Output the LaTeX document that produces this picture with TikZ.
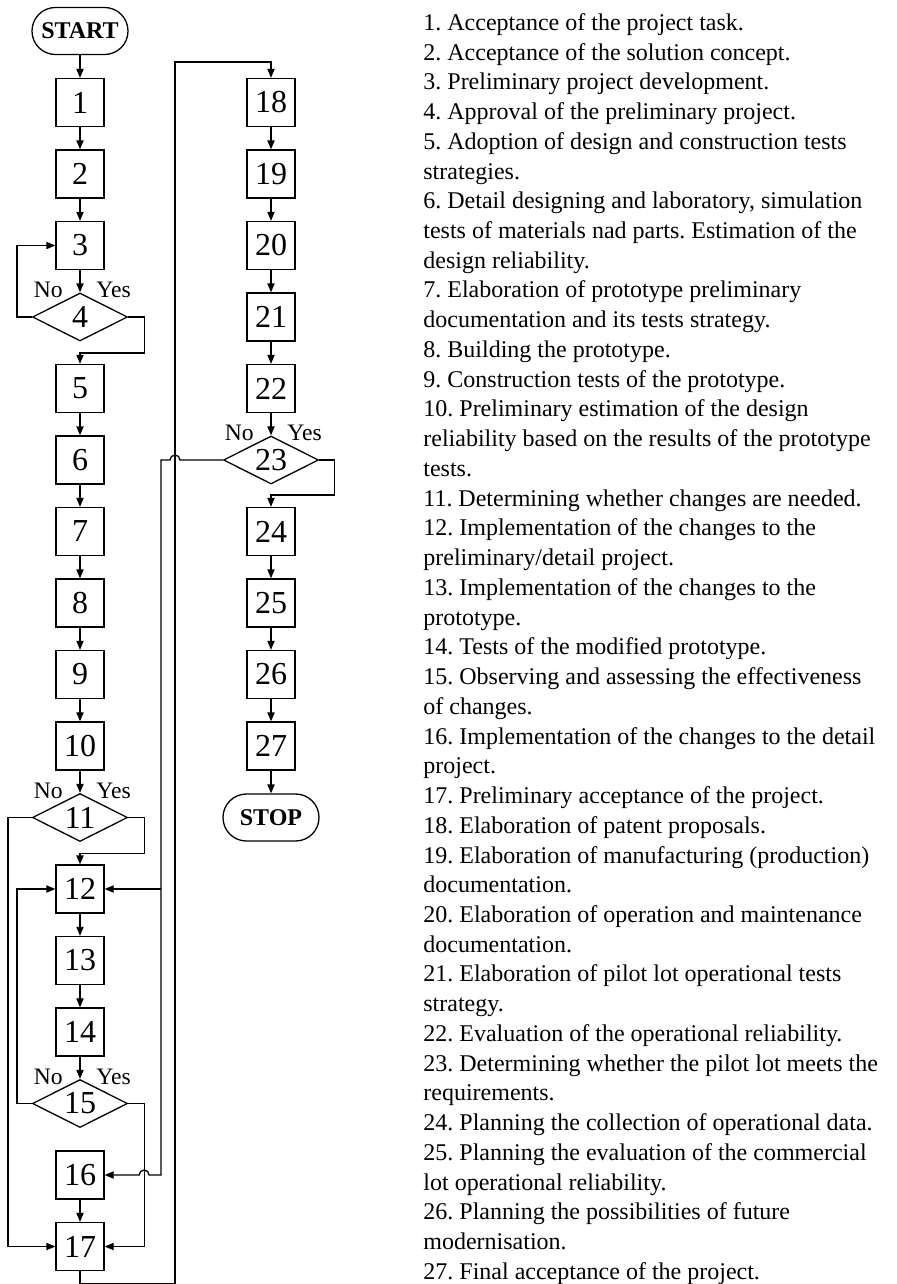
\documentclass[tikz,border=0pt]{standalone}
\usepackage{fontspec}
\setmainfont{Liberation Serif}
\usetikzlibrary{shapes.geometric,arrows.meta,calc}
\frenchspacing

\tikzset{
  stepbox/.style={draw, line width=0.65pt, minimum width=24pt, minimum height=24pt,
    inner sep=0pt, font=\fontsize{16}{16}\selectfont},
  decision/.style={draw, diamond, aspect=2, line width=0.65pt, minimum width=47.5pt,
    minimum height=24pt, inner sep=0pt, font=\fontsize{16}{16}\selectfont},
  term/.style={draw, rounded corners=11.7pt, line width=0.65pt, minimum width=48pt,
    minimum height=23.5pt, inner sep=0pt, font=\fontsize{12}{12}\selectfont\bfseries},
  flow/.style={line width=0.65pt, -{Triangle[length=4.5pt,width=3.6pt]}},
  answer/.style={inner sep=0pt, font=\fontsize{11.8}{12}\selectfont},
}

\begin{document}
\begin{tikzpicture}[x=0.5pt,y=-0.5pt]
  \useasboundingbox (0,0) rectangle (896,1284);

  % left column
  \node[term] (start) at (80,31) {START};
  \foreach \n in {1,2,3,5,6,7,8,9,10,12,13,14,16,17}
    \node[stepbox] (b\n) at (80,{31+71.5*\n}) {\n};
  \foreach \n in {4,11,15}
    \node[decision] (d\n) at (80,{31+71.5*\n}) {\n};

  % right column
  \foreach \n in {18,19,20,21,22,24,25,26,27}
    \node[stepbox] (b\n) at (271,{31+71.5*(\n-17)}) {\n};
  \node[decision] (d23) at (271,460) {23};
  \node[term] (stop) at (271,{31+71.5*11}) {STOP};

  \foreach \n in {4,11,15,23} {
    \node[answer, anchor=base east] (no\n) at ([shift={(-17,5.5)}]d\n.north) {No};
    \node[answer, anchor=base west] (yes\n) at ([shift={(16,5.5)}]d\n.north) {Yes};
  }

  % straight steps
  \foreach \a/\b in {start/b1,b1/b2,b2/b3,b3/d4,b5/b6,b6/b7,b7/b8,b8/b9,b9/b10,
      b10/d11,b12/b13,b13/b14,b14/d15,b16/b17,b18/b19,b19/b20,b20/b21,b21/b22,
      b22/d23,b24/b25,b25/b26,b26/b27,b27/stop}
    \draw[flow] (\a) -- (\b);

  % decisions
  \draw[flow] (d4.west) -- ++(-15,0) |- (b3.west);
  \draw[flow] (d4.east) -- ++(16,0) -- ++(0,36) -| (b5.north);
  \draw[flow] (d11.west) -- ++(-24,0) |- (b17.west);
  \draw[flow] (d11.east) -- ++(16,0) -- ++(0,36) -| (b12.north);
  \draw[flow] (d15.west) -- ++(-15,0) |- (b12.west);
  \draw[flow] (d15.east) -- ++(16,0) |- (b17.east);
  \draw[flow] (d23.east) -- ++(15,0) -- ++(0,35) -| (b24.north);

  % 17 -> 18
  \coordinate (rail) at (175,62);
  \coordinate (back) at (161,460);
  \coordinate (yes15) at ([xshift=8pt]d15.east);
  \draw[flow] (b17.south) -- ++(0,12) -| (rail) -| (b18.north);

  % 23 no -> 12, 16
  \draw[flow] (d23.west) -- ($(d23.west -| rail)+(5,0)$)
    arc[start angle=0,end angle=-180,radius=5] -- (back) -- (back |- b16.east)
    -- ($(b16.east -| yes15)+(5,0)$) arc[start angle=0,end angle=-180,radius=5]
    -- (b16.east);
  \draw[flow] (back |- b12.east) -- (b12.east);

  % legend
  \node[anchor=north west, align=left, inner sep=0pt,
    font=\fontsize{12}{14.87}\selectfont] (list) at (423,13) {%
    1. Acceptance of the project task.\\
    2. Acceptance of the solution concept.\\
    3. Preliminary project development.\\
    4. Approval of the preliminary project.\\
    5. Adoption of design and construction tests\\
    strategies.\\
    6. Detail designing and laboratory, simulation\\
    tests of materials nad parts. Estimation of the\\
    design reliability.\\
    7. Elaboration of prototype preliminary\\
    documentation and its tests strategy.\\
    8. Building the prototype.\\
    9. Construction tests of the prototype.\\
    10. Preliminary estimation of the design\\
    reliability based on the results of the prototype\\
    tests.\\
    11. Determining whether changes are needed.\\
    12. Implementation of the changes to the\\
    preliminary/detail project.\\
    13. Implementation of the changes to the\\
    prototype.\\
    14. Tests of the modified prototype.\\
    15. Observing and assessing the effectiveness\\
    of changes.\\
    16. Implementation of the changes to the detail\\
    project.\\
    17. Preliminary acceptance of the project.\\
    18. Elaboration of patent proposals.\\
    19. Elaboration of manufacturing (production)\\
    documentation.\\
    20. Elaboration of operation and maintenance\\
    documentation.\\
    21. Elaboration of pilot lot operational tests\\
    strategy.\\
    22. Evaluation of the operational reliability.\\
    23. Determining whether the pilot lot meets the\\
    requirements.\\
    24. Planning the collection of operational data.\\
    25. Planning the evaluation of the commercial\\
    lot operational reliability.\\
    26. Planning the possibilities of future\\
    modernisation.\\
    27. Final acceptance of the project.};
\end{tikzpicture}
\end{document}
